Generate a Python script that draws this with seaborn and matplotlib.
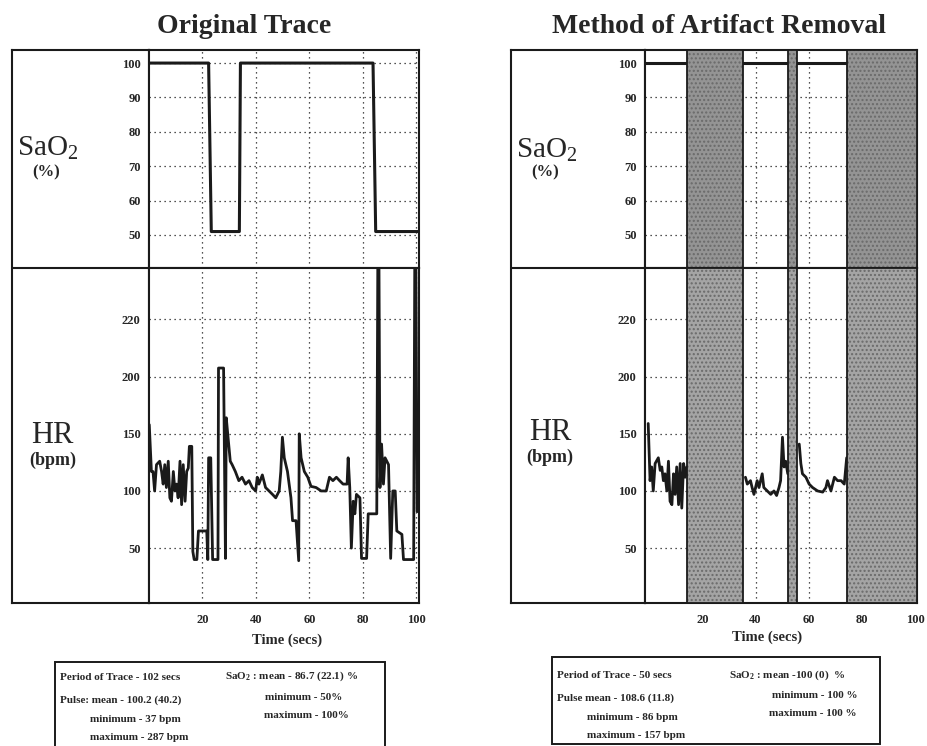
import numpy as np
import pandas as pd
import seaborn as sns
import matplotlib.pyplot as plt
from matplotlib.patches import Rectangle

# ---- data ----
# SaO2, original trace (time in secs, %)
sao2_time = [0, 22.3, 23.3, 33.8, 34.2, 83.8, 84.8, 101]
sao2_orig = [100, 100, 51, 51, 100, 100, 51, 51]

# HR, original trace (bpm)
hr_time = [0.1, 0.9, 1.5, 2.1, 2.8, 4.0, 4.7, 5.3, 5.9, 6.5, 7.2, 7.8, 8.4, 9.1, 9.7,
           10.3, 10.9, 11.6, 12.2, 12.8, 13.5, 14.1, 14.7, 15.1, 16.0, 16.4, 16.9, 17.9,
           18.5, 21.6, 22.0, 22.3, 23.1, 23.8, 25.8, 26.0, 27.9, 28.6, 28.9, 29.8, 30.4,
           31.1, 32.3, 33.6, 34.8, 36.1, 37.4, 38.6, 39.9, 40.5, 41.1, 42.4, 43.6, 44.9,
           46.2, 47.4, 48.7, 49.3, 49.9, 50.6, 51.8, 53.1, 53.7, 55.0, 56.0, 56.2, 56.9,
           58.1, 59.4, 60.6, 62.5, 64.4, 66.3, 67.5, 68.8, 70.1, 71.3, 72.6, 74.1, 74.5,
           75.1, 75.7, 76.4, 77.0, 77.6, 78.9, 79.5, 81.4, 82.0, 85.2, 85.8, 86.4, 87.0,
           87.7, 88.3, 89.6, 90.4, 91.2, 92.1, 92.7, 94.6, 95.2, 99.0, 99.6, 100.3, 100.9]
hr_orig = [158, 117, 117, 100, 123, 126, 117, 106, 123, 103, 126, 94, 91, 117, 100,
           106, 94, 126, 88, 123, 91, 117, 120, 139, 139, 47, 40, 40,
           65, 65, 40, 129, 129, 40, 40, 203, 203, 41, 164, 141, 126,
           123, 117, 109, 112, 106, 109, 103, 100, 112, 106, 114, 103, 100,
           97, 94, 100, 117, 147, 129, 117, 94, 74, 74, 39, 150, 129,
           117, 112, 104, 103, 100, 100, 112, 109, 112, 109, 106, 106, 129,
           103, 50, 91, 80, 97, 94, 41, 41, 80, 80, 287, 103, 141,
           106, 129, 123, 41, 100, 100, 65, 62, 40, 40, 287, 82, 82]

# artifact-free segments after removal
clean_hr_time = [-0.3, 0.4, 1.0, 1.6, 2.3, 3.5, 4.2, 4.8, 5.4, 6.0, 6.7, 7.3, 7.9, 8.6,
                 9.2, 9.8, 10.4, 11.1, 11.7, 12.3, 13.0, 13.6, 14.2,
                 36.2, 36.9, 38.1, 38.7, 39.4, 40.6, 41.3, 42.5, 43.1, 44.4, 45.7, 46.9,
                 47.9, 48.8, 49.4, 50.1, 50.7, 51.3, 52.1,
                 56.4, 57.0, 57.6, 58.9, 60.1, 61.4, 63.3, 65.2, 66.4, 67.0, 68.3, 69.6,
                 70.8, 72.1, 73.3, 74.2]
clean_hr = [159, 109, 121, 100, 124, 129, 118, 121, 109, 115, 100, 126, 91, 88,
            115, 97, 121, 88, 124, 85, 124, 112, 121,
            112, 106, 109, 103, 97, 109, 103, 115, 103, 100, 97, 100,
            96, 103, 109, 147, 121, 126, 115,
            141, 124, 115, 112, 106, 103, 100, 99, 103, 109, 100, 112,
            109, 109, 106, 129]
clean_hr_seg = [0] * 23 + [1] * 19 + [2] * 16
clean_sao2_time = [-1.5, 14.2, 35.4, 52.2, 55.7, 74.3]
clean_sao2 = [100, 100, 100, 100, 100, 100]
clean_sao2_seg = [0, 0, 1, 1, 2, 2]

artifact_start = [14.2, 52.2, 74.3]
artifact_end = [35.4, 55.7, 100.6]

sao2_ticks = [50, 60, 70, 80, 90, 100]
hr_ticks = [50, 100, 150, 200, 220]
time_ticks = [20, 40, 60, 80, 100]

left_stats = [("Period of Trace - 102 secs", 60, 677),
              ("SaO$_2$ : mean - 86.7 (22.1) %", 225, 676),
              ("Pulse: mean - 100.2 (40.2)", 60, 700),
              ("minimum - 50%", 265, 697),
              ("maximum - 100%", 264, 715),
              ("minimum - 37 bpm", 90, 720),
              ("maximum - 287 bpm", 90, 737)]
right_stats = [("Period of Trace - 50 secs", 557, 676),
               ("SaO$_2$ : mean -100 (0)  %", 729, 675),
               ("Pulse mean - 108.6 (11.8)", 557, 698),
               ("minimum - 100 %", 772, 695),
               ("maximum - 100 %", 769, 713),
               ("minimum - 86 bpm", 587, 718),
               ("maximum - 157 bpm", 587, 736)]

# ---- style ----
sns.set_theme(style="white")
plt.rcParams["font.family"] = ["Liberation Serif", "DejaVu Serif"]
plt.rcParams["font.weight"] = "bold"
plt.rcParams["mathtext.default"] = "regular"
plt.rcParams["hatch.linewidth"] = 1.0

W, H = 927, 746


def rect(x0, y0, x1, y1):
    return [x0 / W, 1 - y1 / H, (x1 - x0) / W, (y1 - y0) / H]


# HR axis on the original is stretched above 200 bpm
def hr_fwd(v):
    return np.interp(v, [0, 200, 220, 400], [0, 200, 250, 700])


def hr_inv(p):
    return np.interp(p, [0, 200, 250, 700], [0, 200, 220, 400])


fig = plt.figure(figsize=(9.27, 7.46), dpi=100)

df_sao2 = pd.DataFrame({"t": sao2_time, "v": sao2_orig})
df_hr = pd.DataFrame({"t": hr_time, "v": hr_orig})
df_sao2_c = pd.DataFrame({"t": clean_sao2_time, "v": clean_sao2, "seg": clean_sao2_seg})
df_hr_c = pd.DataFrame({"t": clean_hr_time, "v": clean_hr, "seg": clean_hr_seg})

panels = [
    dict(x0=12, xd=149, x1=419, xlim=(0, 101), title="Original Trace", tx=244,
         sao=(48, 148, 46, 172), hr=(52, 436, 53, 460), time=(287, 640),
         box=(55, 662, 385, 770), stats=left_stats, clean=False),
    dict(x0=511, xd=645, x1=917, xlim=(-1.5, 100.6), title="Method of Artifact Removal", tx=719,
         sao=(547, 150, 545, 172), hr=(550, 432, 550, 457), time=(767, 637),
         box=(552, 657, 880, 744), stats=right_stats, clean=True),
]

grid_kw = dict(color="k", lw=0.9, ls=(0, (1, 3)))

for p in panels:
    # label column
    lab = fig.add_axes(rect(p["x0"], 50, p["xd"], 603))
    lab.set_xticks([])
    lab.set_yticks([])
    lab.axhline((603 - 268) / (603 - 50), color="k", lw=1.5)

    ax_s = fig.add_axes(rect(p["xd"], 50, p["x1"], 268))
    ax_h = fig.add_axes(rect(p["xd"], 268, p["x1"], 603))
    ax_h.set_yscale("function", functions=(hr_fwd, hr_inv))

    if p["clean"]:
        sns.lineplot(data=df_sao2_c, x="t", y="v", units="seg", estimator=None, sort=False,
                     color="k", lw=2.2, ax=ax_s)
        sns.lineplot(data=df_hr_c, x="t", y="v", units="seg", estimator=None, sort=False,
                     color="k", lw=2, ax=ax_h)
        for ax, fc in ((ax_s, "#949494"), (ax_h, "#a4a4a4")):
            for a, b in zip(artifact_start, artifact_end):
                ax.axvspan(a, b, fc=fc, ec="#6a6a6a", hatch="....", lw=0, zorder=3)
                ax.axvspan(a, b, fill=False, ec="k", lw=1.3, zorder=4)
    else:
        sns.lineplot(data=df_sao2, x="t", y="v", sort=False, color="k", lw=2.2, ax=ax_s)
        sns.lineplot(data=df_hr, x="t", y="v", sort=False, color="k", lw=2, ax=ax_h)

    ax_s.set_ylim(40.4, 103.8)
    ax_s.set_yticks(sao2_ticks)
    ax_h.set_ylim(2, 238)
    ax_h.set_yticks(hr_ticks)
    ax_h.set_yticklabels([str(v) for v in hr_ticks])

    for ax in (ax_s, ax_h):
        ax.set_xlim(*p["xlim"])
        ax.set_xticks(time_ticks)
        ax.grid(True, **grid_kw)
        ax.set_xlabel("")
        ax.set_ylabel("")
        ax.tick_params(length=0, labelsize=9, pad=6)
        for s in ax.spines.values():
            s.set_color("k")
            s.set_linewidth(1.5)
    for s in lab.spines.values():
        s.set_color("k")
        s.set_linewidth(1.5)
    ax_s.set_xticklabels([])
    ax_h.tick_params(axis="x", pad=8)

    fig.text(p["tx"] / W, 1 - 33 / H, p["title"], ha="center", va="baseline", fontsize=20)
    sx, sy, px, py = p["sao"]
    fig.text(sx / W, 1 - sy / H, "SaO$_2$", ha="center", va="center", fontsize=21,
             fontweight="normal")
    fig.text(px / W, 1 - py / H, "(%)", ha="center", va="center", fontsize=12)
    hx, hy, bx, by = p["hr"]
    fig.text(hx / W, 1 - hy / H, "HR", ha="center", va="center", fontsize=22,
             fontweight="normal")
    fig.text(bx / W, 1 - by / H, "(bpm)", ha="center", va="center", fontsize=13)
    fig.text(p["time"][0] / W, 1 - p["time"][1] / H, "Time (secs)", ha="center",
             va="center", fontsize=10.5)

    bx0, by0, bx1, by1 = p["box"]
    fig.patches.append(Rectangle((bx0 / W, 1 - by1 / H), (bx1 - bx0) / W, (by1 - by0) / H,
                                 transform=fig.transFigure, fill=False, ec="k", lw=1.4))
    for txt, x, y in p["stats"]:
        fig.text(x / W, 1 - y / H, txt, ha="left", va="center", fontsize=8)

fig.savefig("out.png", dpi=100)
